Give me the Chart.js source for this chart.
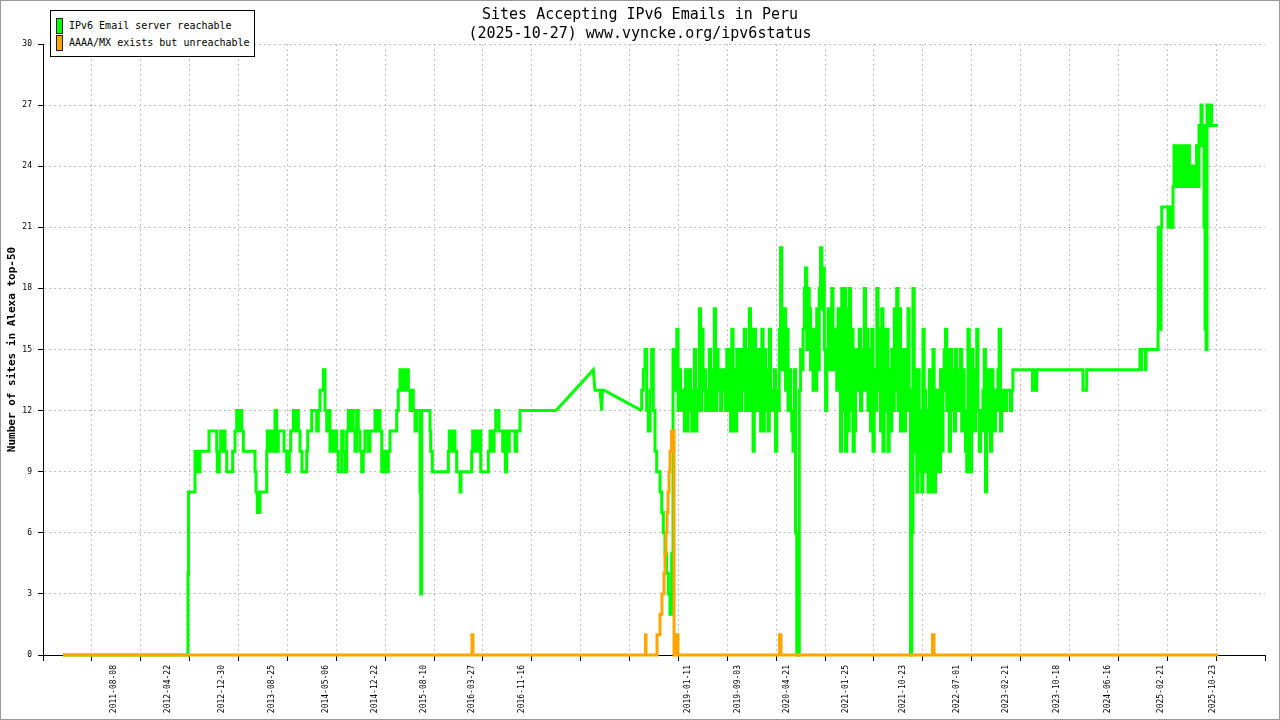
<!DOCTYPE html>
<html>
<head>
<meta charset="utf-8">
<title>Sites Accepting IPv6 Emails in Peru</title>
<script src="https://cdn.jsdelivr.net/npm/chart.js@4.4.1/dist/chart.umd.min.js"></script>
<style>
  body { margin: 0; background: #fff; }
  #wrap { position: relative; width: 1280px; height: 720px; }
  #frame { position: absolute; left: 0; top: 0; width: 1280px; height: 720px; box-sizing: border-box; border: 1px solid #999; pointer-events: none; }
  #legend { position: absolute; left: 50px; top: 10px; width: 203px; height: 45px; border: 1px solid #000; background: #fff; font-family: 'DejaVu Sans Mono', monospace; font-size: 10px; color: #000; }
  #legend .item { position: absolute; left: 5px; height: 16px; line-height: 16px; white-space: nowrap; }
  #legend .item i { display: inline-block; width: 5px; height: 14px; border: 1px solid #222; vertical-align: top; margin-right: 6px; }
</style>
</head>
<body>
<div id="wrap">
  <canvas id="chart" width="1280" height="720"></canvas>
  <div id="legend"></div>
  <div id="frame"></div>
</div>
<script>
// texts
const chartTitle = ['Sites Accepting IPv6 Emails in Peru', '(2025-10-27) www.vyncke.org/ipv6status'];
const yAxisTitle = 'Number of sites in Alexa top-50';
const seriesNames = ['IPv6 Email server reachable', 'AAAA/MX exists but unreachable'];
const seriesColors = ['#00ff00', '#ffa500'];

// dates printed under the x axis
const dateLabels = ['2011-08-08', '2012-04-22', '2012-12-30', '2013-08-25', '2014-05-06', '2014-12-22',
  '2015-08-10', '2016-03-27', '2016-11-16', '2019-01-11', '2019-09-03', '2020-04-21', '2021-01-25',
  '2021-10-23', '2022-07-01', '2023-02-21', '2023-10-18', '2024-06-16', '2025-02-21', '2025-10-23'];

// x range (decimal years) and y range
const xMin = 2010.685, xMax = 2026.483;
const yMin = 0, yMax = 30, yStep = 3;

// period without measurements (drawn as straight lines)
const gapStart = 2017.317, gapEnd = 2018.425;

// [decimal year, sites] reachable
const greenSeries = [
  [2010.944,0],[2012.559,0],[2012.566,4],[2012.572,8],[2012.650,8],[2012.656,10],[2012.672,9],[2012.693,10],
  [2012.715,9],[2012.737,10],[2012.831,10],[2012.835,11],[2012.931,11],[2012.938,10],[2012.964,9],[2012.982,10],
  [2012.999,11],[2013.016,10],[2013.038,11],[2013.060,10],[2013.081,9],[2013.137,9],[2013.145,10],[2013.167,10],
  [2013.189,11],[2013.202,12],[2013.232,11],[2013.254,12],[2013.275,11],[2013.296,10],[2013.426,10],[2013.439,9],
  [2013.455,8],[2013.490,7],[2013.512,8],[2013.577,8],[2013.585,10],[2013.611,11],[2013.642,10],[2013.662,11],
  [2013.684,10],[2013.706,12],[2013.727,10],[2013.749,11],[2013.801,11],[2013.836,10],[2013.869,9],[2013.887,10],
  [2013.921,11],[2013.943,12],[2013.965,11],[2013.986,12],[2014.007,11],[2014.033,10],[2014.050,9],[2014.094,9],
  [2014.107,10],[2014.128,11],[2014.159,11],[2014.223,12],[2014.244,11],[2014.266,12],[2014.288,13],[2014.309,13],
  [2014.331,14],[2014.353,12],[2014.373,11],[2014.395,12],[2014.417,10],[2014.438,11],[2014.460,10],[2014.482,11],
  [2014.502,10],[2014.546,9],[2014.567,11],[2014.589,10],[2014.611,9],[2014.632,11],[2014.654,12],[2014.676,11],
  [2014.696,12],[2014.718,11],[2014.740,10],[2014.761,12],[2014.783,11],[2014.805,10],[2014.825,9],[2014.847,10],
  [2014.869,11],[2014.890,11],[2014.912,10],[2014.934,11],[2014.977,11],[2014.999,12],[2015.020,11],[2015.042,12],
  [2015.064,11],[2015.077,9],[2015.093,10],[2015.110,9],[2015.128,10],[2015.149,9],[2015.171,10],[2015.193,11],
  [2015.258,11],[2015.278,12],[2015.300,13],[2015.322,14],[2015.343,13],[2015.365,14],[2015.387,13],[2015.408,14],
  [2015.430,13],[2015.452,12],[2015.472,13],[2015.494,12],[2015.516,11],[2015.537,12],[2015.559,12],[2015.568,8],
  [2015.581,3],[2015.594,12],[2015.688,12],[2015.697,11],[2015.718,10],[2015.740,9],[2015.925,9],[2015.938,10],
  [2015.968,11],[2015.989,10],[2016.011,11],[2016.033,10],[2016.054,9],[2016.076,9],[2016.089,8],[2016.119,9],
  [2016.227,9],[2016.240,10],[2016.257,11],[2016.279,10],[2016.300,11],[2016.322,10],[2016.344,11],[2016.364,9],
  [2016.442,9],[2016.464,10],[2016.486,11],[2016.516,10],[2016.538,11],[2016.559,12],[2016.580,12],[2016.602,11],
  [2016.628,11],[2016.645,10],[2016.662,11],[2016.680,9],[2016.687,11],[2016.713,10],[2016.731,11],[2016.787,11],
  [2016.809,10],[2016.829,11],[2016.851,11],[2016.873,12],[2017.317,12],[2017.799,14],[2017.821,13],[2017.886,13],
  [2017.908,12],[2017.916,13],[2017.938,13],[2018.425,12],[2018.446,13],[2018.468,14],[2018.490,15],[2018.510,12],
  [2018.532,11],[2018.554,13],[2018.575,15],[2018.597,12],[2018.619,10],[2018.640,9],[2018.662,9],[2018.684,8],
  [2018.704,7],[2018.726,6],[2018.748,5],[2018.769,4],[2018.791,3],[2018.813,2],[2018.830,5],[2018.843,15],
  [2018.863,15],[2018.879,13],[2018.895,16],[2018.911,12],
  [2018.928,14],[2018.944,12],[2018.960,13],[2018.976,12],
  [2018.992,11],[2019.008,14],[2019.024,11],[2019.040,13],
  [2019.057,14],[2019.073,12],[2019.089,11],[2019.105,13],
  [2019.122,15],[2019.138,11],[2019.154,13],[2019.170,12],
  [2019.186,17],[2019.202,12],[2019.218,16],[2019.234,13],
  [2019.251,14],[2019.267,12],[2019.283,13],[2019.299,12],
  [2019.315,15],[2019.331,12],[2019.347,14],[2019.363,12],
  [2019.380,17],[2019.396,12],[2019.412,15],[2019.428,13],
  [2019.445,14],[2019.461,12],[2019.477,14],[2019.493,13],
  [2019.509,14],[2019.525,12],[2019.541,15],[2019.557,12],
  [2019.574,15],[2019.590,11],[2019.606,16],[2019.622,11],
  [2019.638,14],[2019.654,11],[2019.670,15],[2019.686,12],
  [2019.703,15],[2019.719,12],[2019.735,15],[2019.751,13],
  [2019.768,16],[2019.784,12],[2019.800,15],[2019.816,12],
  [2019.832,17],[2019.848,12],[2019.864,16],[2019.880,10],
  [2019.897,16],[2019.913,12],[2019.929,15],[2019.945,12],
  [2019.962,15],[2019.978,11],[2019.994,16],[2020.010,11],
  [2020.026,15],[2020.042,12],[2020.058,14],[2020.074,11],
  [2020.091,16],[2020.107,12],[2020.123,13],[2020.139,12],
  [2020.155,14],[2020.171,10],[2020.187,13],[2020.203,12],
  [2020.220,16],[2020.236,20],[2020.252,14],[2020.268,17],
  [2020.285,17],[2020.301,13],[2020.317,16],[2020.333,12],
  [2020.349,14],[2020.365,12],[2020.381,11],[2020.397,10],
  [2020.414,14],[2020.430,6],[2020.446,0],[2020.462,0],
  [2020.479,13],[2020.495,15],[2020.511,14],[2020.527,16],
  [2020.543,18],[2020.559,19],[2020.575,15],[2020.591,18],
  [2020.608,17],[2020.624,14],[2020.640,16],[2020.656,13],
  [2020.672,16],[2020.688,13],[2020.704,17],[2020.720,14],
  [2020.737,18],[2020.753,20],[2020.769,17],[2020.785,19],
  [2020.802,15],[2020.818,12],[2020.834,14],[2020.850,17],
  [2020.866,16],[2020.882,14],[2020.898,18],[2020.914,15],
  [2020.931,14],[2020.947,16],[2020.963,13],[2020.979,17],
  [2020.995,14],[2021.011,10],[2021.027,18],[2021.043,12],
  [2021.060,18],[2021.076,10],[2021.092,17],[2021.108,11],
  [2021.125,18],[2021.141,12],[2021.157,16],[2021.173,10],
  [2021.189,11],[2021.205,15],[2021.221,13],[2021.237,14],
  [2021.254,16],[2021.270,12],[2021.286,15],[2021.302,13],
  [2021.318,18],[2021.334,13],[2021.350,16],[2021.366,12],
  [2021.383,15],[2021.399,11],[2021.415,16],[2021.431,10],
  [2021.448,14],[2021.464,12],[2021.480,18],[2021.496,13],
  [2021.512,16],[2021.528,11],[2021.544,17],[2021.560,10],
  [2021.577,16],[2021.593,12],[2021.609,16],[2021.625,10],
  [2021.642,14],[2021.658,11],[2021.674,15],[2021.690,12],
  [2021.706,17],[2021.722,13],[2021.738,18],[2021.754,12],
  [2021.771,17],[2021.787,11],[2021.803,15],[2021.819,12],
  [2021.835,11],[2021.851,15],[2021.867,12],[2021.883,17],
  [2021.900,13],[2021.916,0],[2021.932,6],[2021.948,18],
  [2021.965,10],[2021.981,14],[2021.997,8],[2022.013,14],
  [2022.029,9],[2022.045,12],[2022.061,8],[2022.077,16],
  [2022.094,13],[2022.110,9],[2022.126,12],[2022.142,8],
  [2022.158,14],[2022.174,8],[2022.190,12],[2022.206,15],
  [2022.223,8],[2022.239,13],[2022.255,9],[2022.271,13],
  [2022.288,9],[2022.304,14],[2022.320,10],[2022.336,13],
  [2022.352,15],[2022.368,16],[2022.384,12],[2022.400,15],
  [2022.417,10],[2022.433,15],[2022.449,12],[2022.465,14],
  [2022.482,11],[2022.498,15],[2022.514,12],[2022.530,14],
  [2022.546,12],[2022.562,15],[2022.578,11],[2022.594,14],
  [2022.611,12],[2022.627,10],[2022.643,9],[2022.659,16],
  [2022.675,10],[2022.691,9],[2022.707,15],[2022.723,12],
  [2022.740,11],[2022.756,14],[2022.772,16],[2022.788,12],
  [2022.805,10],[2022.821,12],[2022.837,11],[2022.853,13],
  [2022.869,15],[2022.885,8],[2022.901,11],[2022.917,14],
  [2022.934,12],[2022.950,10],[2022.966,14],[2022.982,12],
  [2022.998,11],[2023.014,13],[2023.030,12],[2023.046,14],
  [2023.063,16],[2023.079,11],[2023.095,13],[2023.111,12],
  [2023.128,13],[2023.144,12],[2023.160,13],[2023.176,13],
  [2023.192,13],[2023.208,12],[2023.224,13],[2023.240,14],
  [2023.477,14],[2023.484,13],[2023.497,14],[2023.510,13],[2023.532,13],[2023.542,14],[2024.130,14],[2024.137,13],
  [2024.178,13],[2024.186,14],[2024.867,14],[2024.876,15],[2024.889,14],[2024.906,15],[2024.938,15],[2024.945,14],
  [2024.958,15],[2025.100,15],[2025.104,16],[2025.109,21],[2025.117,18],[2025.126,21],[2025.139,16],[2025.148,21],
  [2025.161,22],[2025.229,22],[2025.236,21],[2025.255,22],[2025.268,21],[2025.281,22],[2025.294,21],[2025.307,23],
  [2025.320,25],[2025.335,23],[2025.351,25],[2025.366,24],[2025.382,23],[2025.397,25],[2025.413,23],[2025.428,25],
  [2025.444,24],[2025.459,23],[2025.475,25],[2025.490,23],[2025.506,25],[2025.521,23],[2025.537,24],[2025.552,24],
  [2025.565,23],[2025.578,24],[2025.598,23],[2025.617,25],[2025.630,23],[2025.643,26],[2025.656,25],[2025.669,27],
  [2025.682,25],[2025.695,26],[2025.708,21],[2025.721,16],[2025.734,15],[2025.746,27],[2025.766,27],[2025.779,26],
  [2025.791,27],[2025.798,26],[2025.875,26]
];

// [decimal year, sites] unreachable
const orangeSeries = [
  [2010.944,0],[2016.231,0],[2016.244,1],[2016.257,0],[2018.474,0],[2018.481,1],[2018.494,0],[2018.623,0],
  [2018.662,1],[2018.687,2],[2018.713,3],[2018.726,4],[2018.739,5],[2018.752,6],[2018.765,7],[2018.778,8],
  [2018.791,9],[2018.810,10],[2018.830,11],[2018.843,11],[2018.849,0],[2018.868,0],[2018.875,1],[2018.894,1],
  [2018.901,0],[2020.206,0],[2020.213,1],[2020.226,1],[2020.232,0],[2022.184,0],[2022.191,1],[2022.204,1],
  [2022.210,0],[2025.875,0]
];

// date string -> decimal year
function toYear(s) {
  const [y, m, d] = s.split('-').map(Number);
  const start = Date.UTC(y, 0, 1), end = Date.UTC(y + 1, 0, 1);
  return y + (Date.UTC(y, m - 1, d) - start) / (end - start);
}

const toPoints = (arr) => arr.map(p => ({ x: p[0], y: p[1] }));
const part = (arr, from, to) => toPoints(arr.filter(p => p[0] >= from && p[0] <= to));

const gridSteps = 25;
const fontFamily = "'DejaVu Sans Mono', monospace";
Chart.defaults.font.family = fontFamily;
Chart.defaults.color = '#000';

// common line style
function lineSet(label, color, data, stepped, order) {
  return {
    label: label,
    data: data,
    borderColor: color,
    backgroundColor: color,
    borderWidth: 3,
    pointRadius: 0,
    fill: false,
    stepped: stepped,
    clip: false,
    order: order
  };
}

const chart = new Chart(document.getElementById('chart').getContext('2d'), {
  type: 'line',
  data: {
    datasets: [
      lineSet(seriesNames[0], seriesColors[0], part(greenSeries, -Infinity, gapStart), 'after', 1),
      lineSet(seriesNames[0], seriesColors[0], part(greenSeries, gapStart, gapEnd), false, 1),
      lineSet(seriesNames[0], seriesColors[0], part(greenSeries, gapEnd, Infinity), 'after', 1),
      lineSet(seriesNames[1], seriesColors[1], toPoints(orangeSeries), 'after', 0)
    ]
  },
  options: {
    responsive: false,
    animation: false,
    devicePixelRatio: 1,
    layout: { padding: 0 },
    plugins: {
      legend: { display: false },
      tooltip: { enabled: false },
      title: {
        display: true,
        text: chartTitle,
        color: '#000',
        font: { size: 15, weight: 'normal', family: fontFamily, lineHeight: 1.267 },
        padding: { top: 6, bottom: 0 }
      }
    },
    scales: {
      x: {
        type: 'linear',
        min: xMin,
        max: xMax,
        afterBuildTicks: (axis) => {
          // regular grid ticks + date label ticks
          const ticks = [];
          for (let i = 0; i <= gridSteps; i++) {
            ticks.push({ value: xMin + (xMax - xMin) * i / gridSteps, grid: true, edge: i === 0 || i === gridSteps });
          }
          dateLabels.forEach(d => ticks.push({ value: toYear(d), text: d }));
          ticks.sort((a, b) => a.value - b.value);
          axis.ticks = ticks;
        },
        afterFit: (axis) => { axis.height = 65; },
        ticks: {
          autoSkip: false,
          minRotation: 90,
          maxRotation: 90,
          padding: 4,
          color: '#000',
          font: { size: 8 },
          callback: function (value, index, ticks) { return ticks[index].text || ''; }
        },
        grid: {
          color: (ctx) => (ctx.tick && ctx.tick.grid && !ctx.tick.edge) ? '#c0c0c0' : 'rgba(0,0,0,0)',
          tickColor: (ctx) => (ctx.tick && ctx.tick.grid) ? '#000' : 'rgba(0,0,0,0)',
          tickLength: 6,
          tickBorderDash: []
        },
        border: { color: '#000', dash: [2, 3] }
      },
      y: {
        min: yMin,
        max: yMax,
        afterFit: (axis) => { axis.width = 43; },
        ticks: { stepSize: yStep, color: '#000', font: { size: 8 }, padding: 6 },
        title: {
          display: true,
          text: yAxisTitle,
          color: '#000',
          font: { size: 11, weight: 'bold' },
          padding: { top: 6, bottom: 0 }
        },
        grid: { color: '#c0c0c0', tickColor: '#000', tickLength: 5, tickBorderDash: [] },
        border: { color: '#000', dash: [2, 3] }
      },
      // empty margin on the right so the title stays centred on the page
      yRight: {
        type: 'linear',
        position: 'right',
        afterFit: (axis) => { axis.width = 15; },
        ticks: { display: false },
        grid: { display: false },
        border: { display: false }
      }
    }
  }
});

// legend box in the top-left corner
const legend = document.getElementById('legend');
seriesNames.forEach((name, i) => {
  const item = document.createElement('div');
  item.className = 'item';
  item.style.top = (7 + i * 17) + 'px';
  const sw = document.createElement('i');
  sw.style.background = seriesColors[i];
  item.appendChild(sw);
  item.appendChild(document.createTextNode(name));
  legend.appendChild(item);
});
</script>
</body>
</html>
